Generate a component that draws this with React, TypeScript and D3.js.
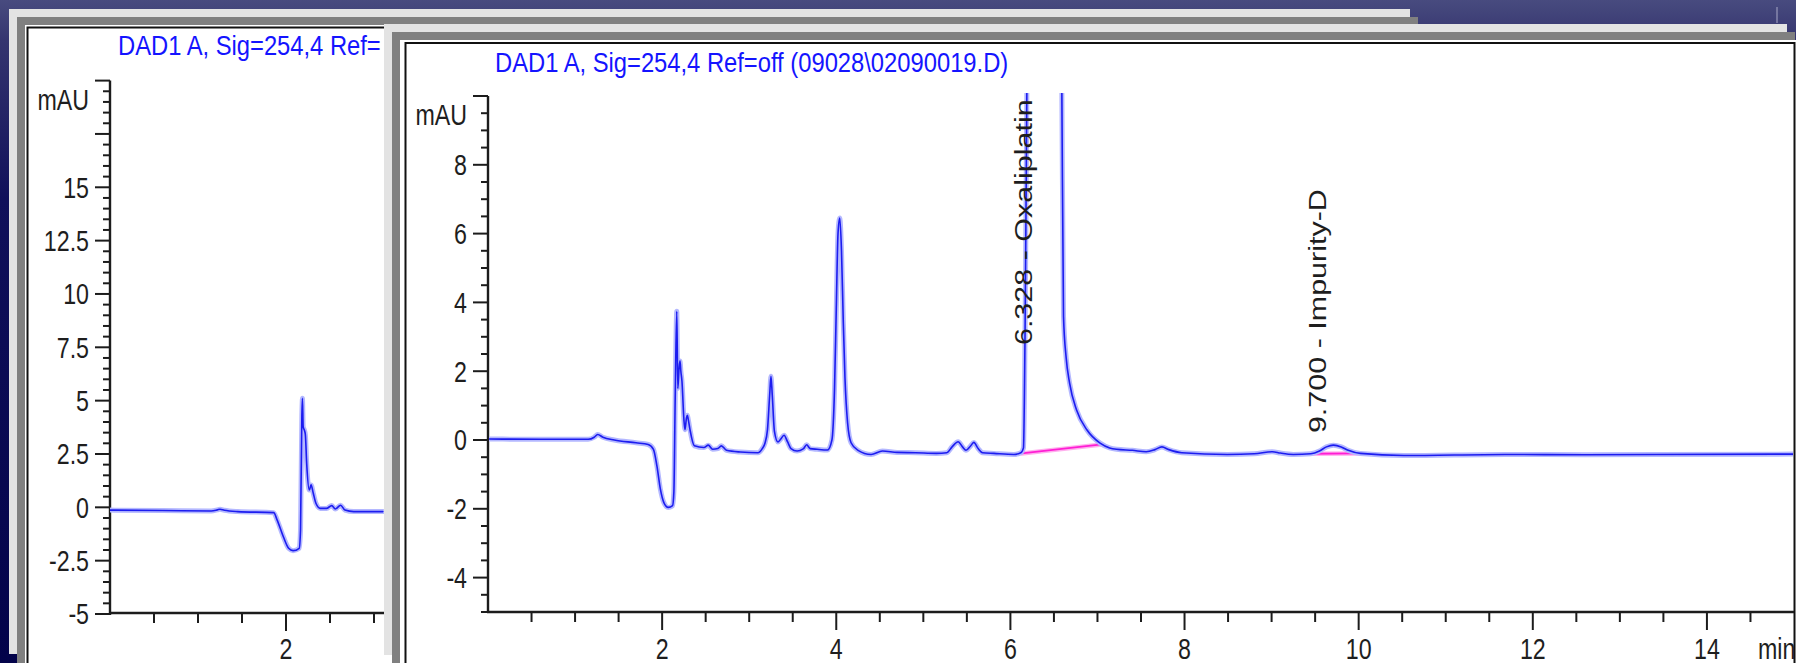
import React from "react";
import * as d3 from "d3";

const W = 1796;
const H = 663;
const font = "'Liberation Sans', Arial, Helvetica, sans-serif";

// back window: blank run, only the first ~3 min are visible
const blankTime = [
  0, 0.6, 1.15, 1.22, 1.25, 1.3, 1.45, 1.86, 1.9, 1.97,
  2.03, 2.08, 2.15, 2.165, 2.18, 2.187, 2.195, 2.21, 2.22, 2.235,
  2.265, 2.285, 2.31, 2.34, 2.39, 2.46, 2.52, 2.56, 2.62, 2.67,
  2.77, 3.1,
];
const blankSignal = [
  -0.13, -0.15, -0.17, -0.12, -0.09, -0.14, -0.2, -0.25, -0.6, -1.38,
  -1.92, -2.03, -1.92, -1.06, 4.25, 5.11, 3.78, 3.6, 3.4, 2.06,
  0.81, 1.05, 0.66, 0.19, -0.05, -0.05, 0.08, -0.08, 0.1, -0.13,
  -0.2, -0.2,
];

// front window: sample run 0-15 min
const sampleTime = [
  0, 0.6, 1.15, 1.22, 1.26, 1.32, 1.45, 1.7, 1.84, 1.9,
  1.94, 1.98, 2.02, 2.07, 2.12, 2.135, 2.15, 2.168, 2.18, 2.195,
  2.205, 2.215, 2.228, 2.25, 2.262, 2.28, 2.29, 2.3, 2.32, 2.37,
  2.48, 2.53, 2.58, 2.64, 2.68, 2.74, 2.9, 3.1, 3.15, 3.18,
  3.21, 3.235, 3.25, 3.265, 3.29, 3.33, 3.36, 3.4, 3.44, 3.48,
  3.55, 3.62, 3.66, 3.7, 3.78, 3.9, 3.95, 3.98, 4.0, 4.02,
  4.04, 4.06, 4.08, 4.1, 4.13, 4.17, 4.25, 4.4, 4.53, 4.7,
  4.91, 5.15, 5.27, 5.33, 5.4, 5.45, 5.49, 5.54, 5.58, 5.63,
  5.68, 5.81, 6.04, 6.12, 6.15, 6.17, 6.19, 6.25, 6.35, 6.45,
  6.55, 6.59, 6.61, 6.64, 6.68, 6.76, 6.88, 7.03, 7.14, 7.22,
  7.4, 7.56, 7.66, 7.74, 7.82, 7.97, 8.49, 8.8, 9.01, 9.1,
  9.25, 9.45, 9.55, 9.63, 9.71, 9.8, 9.88, 10.02, 10.52, 11.68,
  12.6, 13.42, 15,
];
const sampleSignal = [
  0.03, 0.02, 0.02, 0.08, 0.16, 0.08, 0, -0.08, -0.13, -0.27,
  -0.75, -1.43, -1.82, -1.96, -1.91, -1.5, 1.2, 3.74, 1.5, 2.1,
  2.3, 2.0, 1.7, 0.6, 0.3, 0.65, 0.72, 0.6, 0.3, -0.17,
  -0.22, -0.15, -0.27, -0.25, -0.17, -0.3, -0.35, -0.37, -0.25, -0.1,
  0.3, 1.3, 1.85, 1.3, 0.25, -0.06, 0.02, 0.14, -0.05, -0.25,
  -0.32, -0.26, -0.14, -0.25, -0.27, -0.29, 0, 1.5, 3.8, 6.0,
  6.45, 5.5, 3.5, 1.8, 0.5, -0.08, -0.3, -0.42, -0.32, -0.36,
  -0.37, -0.39, -0.37, -0.2, -0.05, -0.2, -0.3, -0.18, -0.07, -0.25,
  -0.37, -0.39, -0.42, -0.37, -0.23, 3.58, 10.5, 30, 52, 45,
  20, 10.5, 3.6, 2.4, 1.65, 0.87, 0.29, -0.09, -0.23, -0.27,
  -0.3, -0.34, -0.28, -0.2, -0.28, -0.37, -0.42, -0.4, -0.34, -0.38,
  -0.42, -0.4, -0.32, -0.2, -0.15, -0.2, -0.3, -0.39, -0.45, -0.42,
  -0.43, -0.42, -0.41,
];

// integrated peaks
const peakLabels = ["6.328 - Oxaliplatin", "9.700 - Impurity-D"];
const peakRT = [6.328, 9.7];
const peakLabelBase = [2.76, 0.2];
const peakStartT = [6.13, 9.45];
const peakStartV = [-0.39, -0.4];
const peakEndT = [7.05, 10.03];
const peakEndV = [-0.13, -0.39];

const blankTitle = "DAD1 A, Sig=254,4 Ref=";
const sampleTitle = "DAD1 A, Sig=254,4 Ref=off (09028\\02090019.D)";
const blankYLabels = [-5, -2.5, 0, 2.5, 5, 7.5, 10, 12.5, 15];
const sampleYLabels = [-4, -2, 0, 2, 4, 6, 8];
const blankXLabels = [2];
const sampleXLabels = [2, 4, 6, 8, 10, 12, 14];

const axisColor = "#1c1c1c";
const textColor = "#1e1e1e";

function T({ x, y, size, sx = 0.8, anchor = "start", fill = textColor, rot = 0, dy, children }: any) {
  return (
    <text
      transform={`translate(${x},${y}) scale(${sx},1)${rot ? ` rotate(${rot})` : ""}`}
      fontSize={size}
      textAnchor={anchor}
      fill={fill}
      dy={dy}
      fontFamily={font}
    >
      {children}
    </text>
  );
}

function Trace({ d }: { d: string }) {
  return (
    <g fill="none" strokeLinejoin="round" strokeLinecap="round">
      <path d={d} stroke="#b4b8ff" strokeWidth={5} />
      <path d={d} stroke="#1c1cf0" strokeWidth={1.6} />
    </g>
  );
}

function YAxis({ x, y, majors, minors, labels, fmt }: any) {
  const [lo, hi] = y.domain();
  return (
    <g stroke={axisColor} strokeWidth={2}>
      <line x1={x} x2={x} y1={y(lo) + 1} y2={y(hi)} strokeWidth={2.4} />
      {minors.map((v: number) => (
        <line key={"m" + v} x1={x - 7} x2={x} y1={y(v)} y2={y(v)} />
      ))}
      {majors.map((v: number) => (
        <line key={"M" + v} x1={x - 15} x2={x} y1={y(v)} y2={y(v)} />
      ))}
      <g stroke="none">
        {labels.map((v: number) => (
          <T key={v} x={x - 21} y={y(v)} size={29} anchor="end" dy="0.36em">
            {fmt(v)}
          </T>
        ))}
        <T x={x - 21} y={y(hi) + 29} size={29} anchor="end">
          mAU
        </T>
      </g>
    </g>
  );
}

function XAxis({ xs, yPix, majors, minors, labels, xEnd }: any) {
  return (
    <g stroke={axisColor} strokeWidth={2}>
      <line x1={xs(0) - 1} x2={xEnd} y1={yPix} y2={yPix} strokeWidth={2.4} />
      {minors.map((t: number) => (
        <line key={"m" + t} x1={xs(t)} x2={xs(t)} y1={yPix} y2={yPix + 10} />
      ))}
      {majors.map((t: number) => (
        <line key={"M" + t} x1={xs(t)} x2={xs(t)} y1={yPix} y2={yPix + 18} />
      ))}
      <g stroke="none">
        {labels.map((t: number) => (
          <T key={t} x={xs(t)} y={659} size={29} anchor="middle">
            {t}
          </T>
        ))}
      </g>
    </g>
  );
}

export default function App() {
  // back window scales
  const xB = d3.scaleLinear().domain([0, 3.25]).range([110, 110 + 3.25 * 88]);
  const yB = d3.scaleLinear().domain([-5, 20]).range([614, 80.6]);
  // front window scales
  const xS = d3.scaleLinear().domain([0, 15]).range([488, 1794]);
  const yS = d3.scaleLinear().domain([-5, 10]).range([612, 96]);

  const lineB = d3
    .line<number>()
    .x((_, i) => xB(blankTime[i]))
    .y((v) => yB(v))
    .curve(d3.curveMonotoneX);
  const lineS = d3
    .line<number>()
    .x((_, i) => xS(sampleTime[i]))
    .y((v) => yS(v))
    .curve(d3.curveMonotoneX);

  const bYMaj = d3.range(-5, 20.01, 2.5);
  const bYMin = d3.range(-5, 20.01, 0.5).filter((v) => Math.abs(v / 2.5 - Math.round(v / 2.5)) > 1e-6);
  const sYMaj = d3.range(-4, 10.01, 2);
  const sYMin = d3.range(-5, 10.01, 0.5).filter((v) => Math.abs(v / 2 - Math.round(v / 2)) > 1e-6);
  const xMaj = d3.range(2, 14.01, 2);
  const xMin = d3.range(0.5, 14.9, 0.5).filter((t) => Math.abs(t / 2 - Math.round(t / 2)) > 1e-6);

  const fmtB = (v: number) => (Number.isInteger(v) ? String(v) : v.toFixed(1));

  return (
    <svg
      width={W}
      height={H}
      viewBox={`0 0 ${W} ${H}`}
      style={{ position: "fixed", left: 0, top: 0, display: "block" }}
    >
      <defs>
        <linearGradient id="bg" x1="0" y1="0" x2="0" y2="1">
          <stop offset="0" stopColor="#484b7f" />
          <stop offset="0.06" stopColor="#35356f" />
          <stop offset="0.3" stopColor="#10105a" />
          <stop offset="1" stopColor="#03034a" />
        </linearGradient>
        <clipPath id="clipB">
          <rect x={110} y={70} width={274} height={544} />
        </clipPath>
        <clipPath id="clipS">
          <rect x={489} y={93} width={1304} height={519} />
        </clipPath>
      </defs>

      <rect width={W} height={H} fill="url(#bg)" />
      <line x1={1777} x2={1777} y1={7} y2={23} stroke="#a4a4c4" strokeWidth={1.5} opacity={0.7} />

      {/* back window */}
      <rect x={9} y={9} width={1401} height={645} fill="#e3e3e3" />
      <rect x={17} y={17} width={1401} height={660} fill="#808080" />
      <rect x={25} y={25} width={1385} height={660} fill="#fff" />
      <rect x={27.5} y={27.5} width={1380} height={660} fill="none" stroke="#111" strokeWidth={2} />
      <T x={118} y={55} size={27} sx={0.88} fill="#1414ff">
        {blankTitle}
      </T>
      <YAxis x={110} y={yB} majors={bYMaj} minors={bYMin} labels={blankYLabels} fmt={fmtB} />
      <XAxis xs={xB} yPix={613} majors={[2]} minors={[0.5, 1, 1.5, 2.5, 3]} labels={blankXLabels} xEnd={384} />
      <g clipPath="url(#clipB)">
        <Trace d={lineB(blankSignal) || ""} />
      </g>

      {/* front window */}
      <rect x={384} y={24} width={1403} height={631} fill="#e3e3e3" />
      <rect x={392} y={32} width={1403} height={640} fill="#808080" />
      <rect x={400} y={40} width={1396} height={640} fill="#fff" />
      <rect x={405.5} y={43} width={1389} height={640} fill="none" stroke="#111" strokeWidth={2} />
      <T x={495} y={72} size={27} sx={0.88} fill="#1414ff">
        {sampleTitle}
      </T>
      <YAxis x={488} y={yS} majors={sYMaj} minors={sYMin} labels={sampleYLabels} fmt={(v: number) => String(v)} />
      <XAxis xs={xS} yPix={612} majors={xMaj} minors={xMin} labels={sampleXLabels} xEnd={1794} />
      <T x={1758} y={659} size={29}>
        min
      </T>

      <g clipPath="url(#clipS)">
        {peakRT.map((_, i) => {
          const seg = `M${xS(peakStartT[i])},${yS(peakStartV[i])}L${xS(peakEndT[i])},${yS(peakEndV[i])}`;
          return (
            <g key={i} fill="none" strokeLinecap="round">
              <path d={seg} stroke="#ffb0ee" strokeWidth={4.5} />
              <path d={seg} stroke="#ff1ed4" strokeWidth={1.8} />
            </g>
          );
        })}
        <Trace d={lineS(sampleSignal) || ""} />
      </g>

      {peakRT.map((rt, i) => (
        <T key={i} x={xS(rt) - 7} y={yS(peakLabelBase[i])} size={30.5} rot={-90}>
          {peakLabels[i]}
        </T>
      ))}
    </svg>
  );
}
